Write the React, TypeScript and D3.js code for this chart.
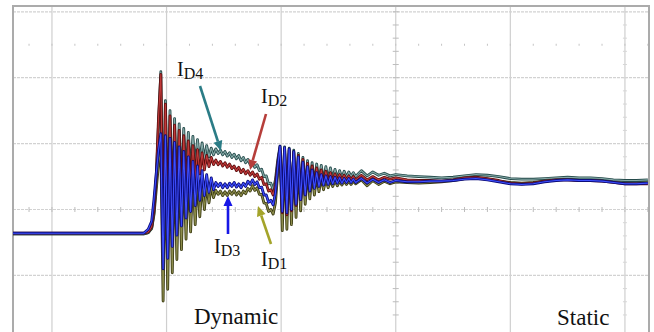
import React from 'react';
import * as d3 from 'd3';

// sample times in ns (100 ns / div), shared by the four drain currents
const timeNs = [
  -34, 80, 84, 87, 89, 91, 93,
  95, 97, 99, 101, 103, 105, 107, 109, 111, 113, 115, 117, 119, 121, 123, 125, 127, 129, 131, 133, 135, 137, 139, 141,
  143, 145, 147, 149, 151, 153, 155, 157, 159, 161, 163, 165, 167, 169, 171, 173, 175, 177, 179, 181, 183, 185, 187, 189, 191, 193,
  195, 197, 199, 201, 203, 205, 207, 209, 211, 213, 215, 217, 219, 221, 223, 225, 227, 229, 231, 233, 235, 237, 239, 241, 243, 245, 247, 249, 251, 253, 255, 257, 259, 261, 263, 265,
  270, 275, 280, 285, 290, 295, 300, 310, 320, 330, 340, 350, 360, 370, 380, 390, 400, 410, 420, 430, 440, 450, 460, 470, 480, 490, 500, 510, 520,
];

// drain currents in A (10 A / div)
const iD4 = [
  -3.7, -3.7, -3.5, -2.8, -0.5, 4.5, 13,
  20.9, -3.5, 16.5, -2.0, 15.0, 0, 13.8, 1.8, 13.0, 3.3, 12.3, 4.6, 11.7, 5.6, 11.1, 6.4, 10.6, 7.1, 10.1, 7.6, 9.7, 8.0, 9.3, 8.3,
  9.2, 8.5, 9.0, 8.3, 8.8, 8.1, 8.6, 7.9, 8.4, 7.7, 8.2, 7.4, 7.9, 7.1, 7.6, 6.8, 7.2, 6.4, 6.8, 5.9, 6.1, 5.0, 5.1, 3.9, 4.0, 3.0,
  4.5, 7.5, 9.6, 0.5, 9.5, 0.0, 9.3, 0.5, 9.0, 1.2, 8.5, 2.0, 7.9, 2.8, 7.4, 3.4, 7.1, 3.8, 6.9, 4.1, 6.7, 4.3, 6.5, 4.5, 6.3, 4.6, 6.1, 4.7, 5.9, 4.8, 5.8, 4.9, 5.7, 5.0, 5.6, 5.0,
  5.9, 5.1, 5.7, 5.2, 5.5, 5.1, 5.3, 5.1, 5.0, 4.9, 4.8, 4.9, 5.1, 5.3, 5.2, 5.0, 4.7, 4.6, 4.6, 4.7, 4.8, 4.9, 4.8, 4.8, 4.7, 4.5, 4.4, 4.4, 4.5,
];
const iD2 = [
  -3.6, -3.6, -3.4, -2.6, 0, 5, 14,
  20.5, -5.0, 16.0, -4.0, 14.2, -2.3, 12.8, -0.5, 12.0, 1.0, 11.2, 2.4, 10.4, 3.6, 9.7, 4.6, 9.1, 5.4, 8.6, 6.0, 8.2, 6.5, 7.9, 6.8,
  7.5, 6.8, 7.3, 6.6, 7.1, 6.4, 6.9, 6.2, 6.6, 5.9, 6.4, 5.6, 6.1, 5.4, 5.9, 5.2, 5.7, 5.0, 5.4, 4.6, 4.9, 3.8, 3.9, 2.8, 3.0, 2.2,
  3.8, 7.0, 9.3, -0.5, 9.2, -0.8, 9.0, -0.2, 8.7, 0.6, 8.2, 1.5, 7.6, 2.3, 7.0, 3.0, 6.6, 3.4, 6.3, 3.7, 6.0, 4.0, 5.8, 4.2, 5.6, 4.3, 5.4, 4.4, 5.3, 4.5, 5.2, 4.5, 5.1, 4.5, 5.0, 4.5,
  5.2, 4.5, 5.0, 4.5, 4.9, 4.6, 4.8, 4.5, 4.4, 4.4, 4.3, 4.5, 4.8, 4.9, 4.7, 4.4, 4.0, 3.9, 4.0, 4.3, 4.5, 4.5, 4.4, 4.4, 4.3, 4.1, 3.9, 3.9, 3.9,
];
const iD3 = [
  -3.6, -3.6, -3.0, -1.8, 1.5, 5.5, 9,
  11.5, -9.0, 11.2, -7.4, 10.8, -5.6, 10.2, -3.9, 9.5, -2.5, 8.8, -1.3, 8.0, -0.3, 7.3, 0.6, 6.6, 1.4, 5.9, 2.1, 5.3, 2.6, 4.8, 3.0,
  4.1, 3.5, 4.0, 3.3, 3.9, 3.3, 4.0, 3.5, 4.1, 3.4, 3.9, 3.3, 4.0, 3.5, 4.3, 3.8, 4.5, 3.8, 4.2, 3.3, 3.4, 2.2, 2.2, 1.1, 1.4, 0.7,
  2.5, 6.5, 9.6, -0.3, 9.4, -0.5, 9.2, 0.0, 8.8, 0.8, 8.0, 1.5, 7.2, 2.2, 6.5, 2.8, 6.0, 3.2, 5.6, 3.5, 5.3, 3.7, 5.1, 3.8, 5.0, 3.9, 4.9, 4.0, 4.8, 4.0, 4.7, 4.1, 4.7, 4.1, 4.6, 4.1,
  4.7, 4.0, 4.6, 4.1, 4.5, 4.1, 4.4, 4.2, 4.2, 4.3, 4.3, 4.4, 4.6, 4.7, 4.5, 4.2, 3.9, 3.8, 3.9, 4.2, 4.4, 4.5, 4.4, 4.4, 4.3, 4.1, 3.9, 3.9, 4.0,
];
const iD1 = [
  -3.7, -3.7, -3.5, -2.9, -0.8, 3, 7,
  9.0, -13.9, 9.0, -12.1, 8.7, -9.6, 8.2, -7.6, 7.6, -6.1, 7.0, -4.5, 6.2, -3.4, 5.5, -2.3, 4.8, -1.1, 4.2, 0, 3.8, 1.0, 3.5, 1.8,
  2.9, 2.3, 2.8, 2.1, 2.7, 2.1, 2.8, 2.3, 2.9, 2.2, 2.7, 2.1, 2.8, 2.4, 3.2, 2.8, 3.6, 2.9, 3.3, 2.3, 2.3, 1.0, 0.9, -0.3, 0.0, -0.7,
  1.0, 5.5, 8.8, -3.2, 8.7, -3.0, 8.5, -2.3, 8.0, -1.2, 7.4, -0.2, 6.6, 0.8, 6.0, 1.6, 5.5, 2.2, 5.1, 2.7, 4.8, 3.0, 4.6, 3.3, 4.5, 3.5, 4.4, 3.6, 4.3, 3.7, 4.3, 3.8, 4.3, 3.8, 4.3, 3.9,
  4.5, 3.6, 4.4, 3.8, 4.3, 3.9, 4.2, 4.1, 4.0, 4.1, 4.2, 4.4, 4.7, 4.8, 4.6, 4.3, 4.1, 4.0, 4.1, 4.3, 4.5, 4.6, 4.5, 4.5, 4.4, 4.3, 4.2, 4.1, 4.2,
];

const gridTimes = [0, 100, 200, 300, 400, 500];
const gridAmps = [-10, 0, 10, 20, 30];

// draw order: olive, teal, red, blue on top
const traces = [
  { name: 'D1', values: iD1, dark: '#3a3a12', light: '#8c8c4c' },
  { name: 'D4', values: iD4, dark: '#244a4a', light: '#86aaa8' },
  { name: 'D2', values: iD2, dark: '#5c0e0e', light: '#c03a3a' },
  { name: 'D3', values: iD3, dark: '#0c0c7a', light: '#3f50ff' },
];

// label text position + arrow (from -> to), in px
const labels = [
  { sub: 'D4', x: 177, y: 76, color: '#2b7c86', from: [200, 86], to: [221, 151] },
  { sub: 'D2', x: 261, y: 103, color: '#b63e3a', from: [266, 114], to: [250, 170] },
  { sub: 'D3', x: 214, y: 253, color: '#1717e6', from: [228, 234], to: [228, 196] },
  { sub: 'D1', x: 261, y: 266, color: '#a4a42a', from: [271, 244], to: [258, 206] },
];

function Arrow({ from, to, color }: { from: number[]; to: number[]; color: string }) {
  const ang = Math.atan2(to[1] - from[1], to[0] - from[0]);
  const len = 10, half = 4.5;
  const bx = to[0] - len * Math.cos(ang), by = to[1] - len * Math.sin(ang);
  const px = -Math.sin(ang) * half, py = Math.cos(ang) * half;
  const head = `M${to[0]},${to[1]}L${bx + px},${by + py}L${bx - px},${by - py}Z`;
  return (
    <g>
      <line x1={from[0]} y1={from[1]} x2={bx} y2={by} stroke={color} strokeWidth={2.6} />
      <path d={head} fill={color} />
    </g>
  );
}

export default function App() {
  const x = d3.scaleLinear().domain([-34, 521]).range([13, 649]);
  const y = d3.scaleLinear().domain([-10, 30]).range([275.4, 11.8]);
  const line = d3.line<number>().x((_, i) => x(timeNs[i])).y((d) => y(d));

  const xTicks = d3.range(-20, 521, 20);
  const yTicks = d3.range(-16, 31, 2);

  return (
    <svg width={654} height={332} style={{ position: 'absolute', left: 0, top: 0, background: '#fff' }}
      fontFamily="'Liberation Serif', 'Times New Roman', serif">
      {/* grid */}
      {gridTimes.map((t) => (
        <line key={'gt' + t} x1={x(t)} x2={x(t)} y1={6} y2={332} stroke="#cfcfcf" strokeWidth={1.2} />
      ))}
      {gridAmps.map((a) => (
        <line key={'ga' + a} x1={13} x2={649} y1={y(a)} y2={y(a)} stroke="#d2d2d2" strokeWidth={1.2} strokeDasharray="3 1" />
      ))}
      {xTicks.map((t) => (
        <g key={'xt' + t}>
          <line x1={x(t)} x2={x(t)} y1={y(0) - 2.5} y2={y(0) + 2.5} stroke="#bdbdbd" />
          <line x1={x(t)} x2={x(t)} y1={y(25) - 1} y2={y(25) + 1} stroke="#c4c4c4" />
        </g>
      ))}
      {yTicks.map((a) => (
        <g key={'yt' + a}>
          <line x1={x(300) - 3} x2={x(300) + 3} y1={y(a)} y2={y(a)} stroke="#bdbdbd" />
          <line x1={x(500) - 2} x2={x(500) + 2} y1={y(a)} y2={y(a)} stroke="#d6d6d6" />
        </g>
      ))}
      {/* frame */}
      <path d="M13,340V6H649V340" fill="none" stroke="#ababab" strokeWidth={2} />

      {/* traces */}
      {traces.map((s) => (
        <g key={s.name}>
          <path d={line(s.values) || ''} fill="none" stroke={s.dark} strokeWidth={2.8} strokeLinejoin="round" />
          <path d={line(s.values) || ''} fill="none" stroke={s.light} strokeWidth={1.1} strokeLinejoin="round" />
        </g>
      ))}

      {/* annotations */}
      {labels.map((l) => (
        <g key={l.sub}>
          <text x={l.x} y={l.y} fontSize={20} fill="#111">
            I<tspan fontSize={16} dy={3}>{l.sub}</tspan>
          </text>
          <Arrow from={l.from} to={l.to} color={l.color} />
        </g>
      ))}
      <text x={194} y={324} fontSize={23} fill="#111">Dynamic</text>
      <text x={557} y={325} fontSize={23} fill="#111">Static</text>
    </svg>
  );
}
